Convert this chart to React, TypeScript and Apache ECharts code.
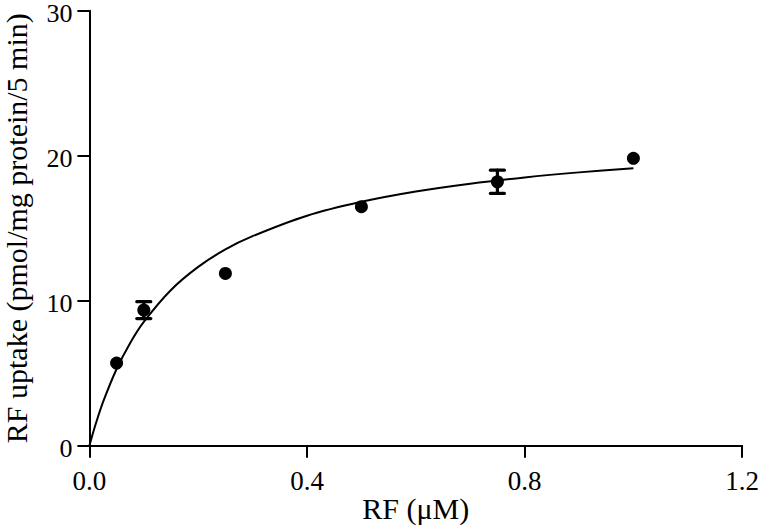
import React, { useEffect, useRef } from "react";
import * as echarts from "echarts";

// Measured points (RF concentration, µM) and uptake (pmol/mg protein/5 min)
const concentrations = [0.05, 0.1, 0.25, 0.5, 0.75, 1.0];
const uptake = [5.7, 9.35, 11.88, 16.48, 18.2, 19.82];
const uptakeSem = [0, 0.58, 0, 0, 0.8, 0];

// Fitted saturation curve
const fitX = [0, 0.005, 0.01, 0.025, 0.05, 0.075, 0.1, 0.15, 0.2, 0.25, 0.3, 0.4, 0.5, 0.6, 0.7, 0.8, 0.9, 1.0];
const fitY = [0, 0.67, 1.31, 3.0, 5.29, 7.09, 8.54, 10.74, 12.33, 13.54, 14.45, 15.86, 16.82, 17.53, 18.07, 18.5, 18.85, 19.14];

// Axis ticks
const xTicks = [0, 0.4, 0.8, 1.2];
const yTicks = [0, 10, 20, 30];

const FONT = "'Liberation Serif', 'Times New Roman', serif";

export default function App() {
  const ref = useRef<HTMLDivElement>(null);

  useEffect(() => {
    if (!ref.current) return;
    const chart = echarts.init(ref.current, null, { renderer: "svg" });

    const errData = concentrations
      .map((x, i) => [x, uptake[i] - uptakeSem[i], uptake[i] + uptakeSem[i], uptakeSem[i]])
      .filter((d) => d[3] > 0);

    const option: any = {
      animation: false,
      backgroundColor: "#ffffff",
      textStyle: { fontFamily: FONT, color: "#000" },
      grid: {
        left: 89.4,
        right: 17.8,
        top: 10.7,
        bottom: 82.3,
        containLabel: false,
        outerBoundsMode: "none",
      },
      xAxis: {
        type: "value",
        min: xTicks[0],
        max: xTicks[xTicks.length - 1],
        interval: 0.4,
        name: "RF (\u03bcM)",
        nameLocation: "middle",
        nameGap: 50,
        nameMoveOverlap: false,
        nameTextStyle: { fontFamily: FONT, fontSize: 30, lineHeight: 26, color: "#000" },
        axisLine: { show: true, lineStyle: { color: "#000", width: 2 } },
        axisTick: { show: true, length: 12, lineStyle: { color: "#000", width: 2 } },
        axisLabel: {
          fontFamily: FONT,
          fontSize: 27,
          color: "#000",
          margin: 22,
          formatter: (v: number) => v.toFixed(1),
        },
        splitLine: { show: false },
      },
      yAxis: {
        type: "value",
        min: yTicks[0],
        max: yTicks[yTicks.length - 1],
        interval: 10,
        name: "RF uptake (pmol/mg protein/5 min)",
        nameLocation: "middle",
        nameGap: 59,
        nameMoveOverlap: false,
        nameTextStyle: { fontFamily: FONT, fontSize: 30, lineHeight: 28, color: "#000" },
        axisLine: { show: true, lineStyle: { color: "#000", width: 2 } },
        axisTick: { show: true, length: 12, lineStyle: { color: "#000", width: 2 } },
        axisLabel: {
          fontFamily: FONT,
          fontSize: 26,
          verticalAlign: "top",
          lineHeight: 5,
          color: "#000",
          margin: 17,
        },
        splitLine: { show: false },
      },
      series: [
        {
          type: "line",
          data: fitX.map((x, i) => [x, fitY[i]]),
          showSymbol: false,
          symbol: "none",
          smooth: 0.3,
          lineStyle: { color: "#000", width: 2 },
          z: 2,
        },
        {
          type: "custom",
          data: errData,
          renderItem: (params: any, api: any) => {
            const x = api.value(0);
            const lo = api.coord([x, api.value(1)]);
            const hi = api.coord([x, api.value(2)]);
            const half = 7;
            const st = { stroke: "#000", lineWidth: 3.2, lineCap: "round" };
            return {
              type: "group",
              children: [
                { type: "line", shape: { x1: lo[0], y1: lo[1], x2: hi[0], y2: hi[1] }, style: st },
                { type: "line", shape: { x1: lo[0] - half, y1: lo[1], x2: lo[0] + half, y2: lo[1] }, style: st },
                { type: "line", shape: { x1: hi[0] - half, y1: hi[1], x2: hi[0] + half, y2: hi[1] }, style: st },
              ],
            };
          },
          z: 3,
        },
        {
          type: "scatter",
          data: concentrations.map((x, i) => [x, uptake[i]]),
          symbol: "circle",
          symbolSize: 13,
          itemStyle: { color: "#000", opacity: 1 },
          z: 4,
        },
      ],
    };

    chart.setOption(option);
    return () => {
      chart.dispose();
    };
  }, []);

  return (
    <div
      ref={ref}
      style={{ position: "fixed", left: 0, top: 0, width: 760, height: 528, background: "#fff" }}
    />
  );
}
